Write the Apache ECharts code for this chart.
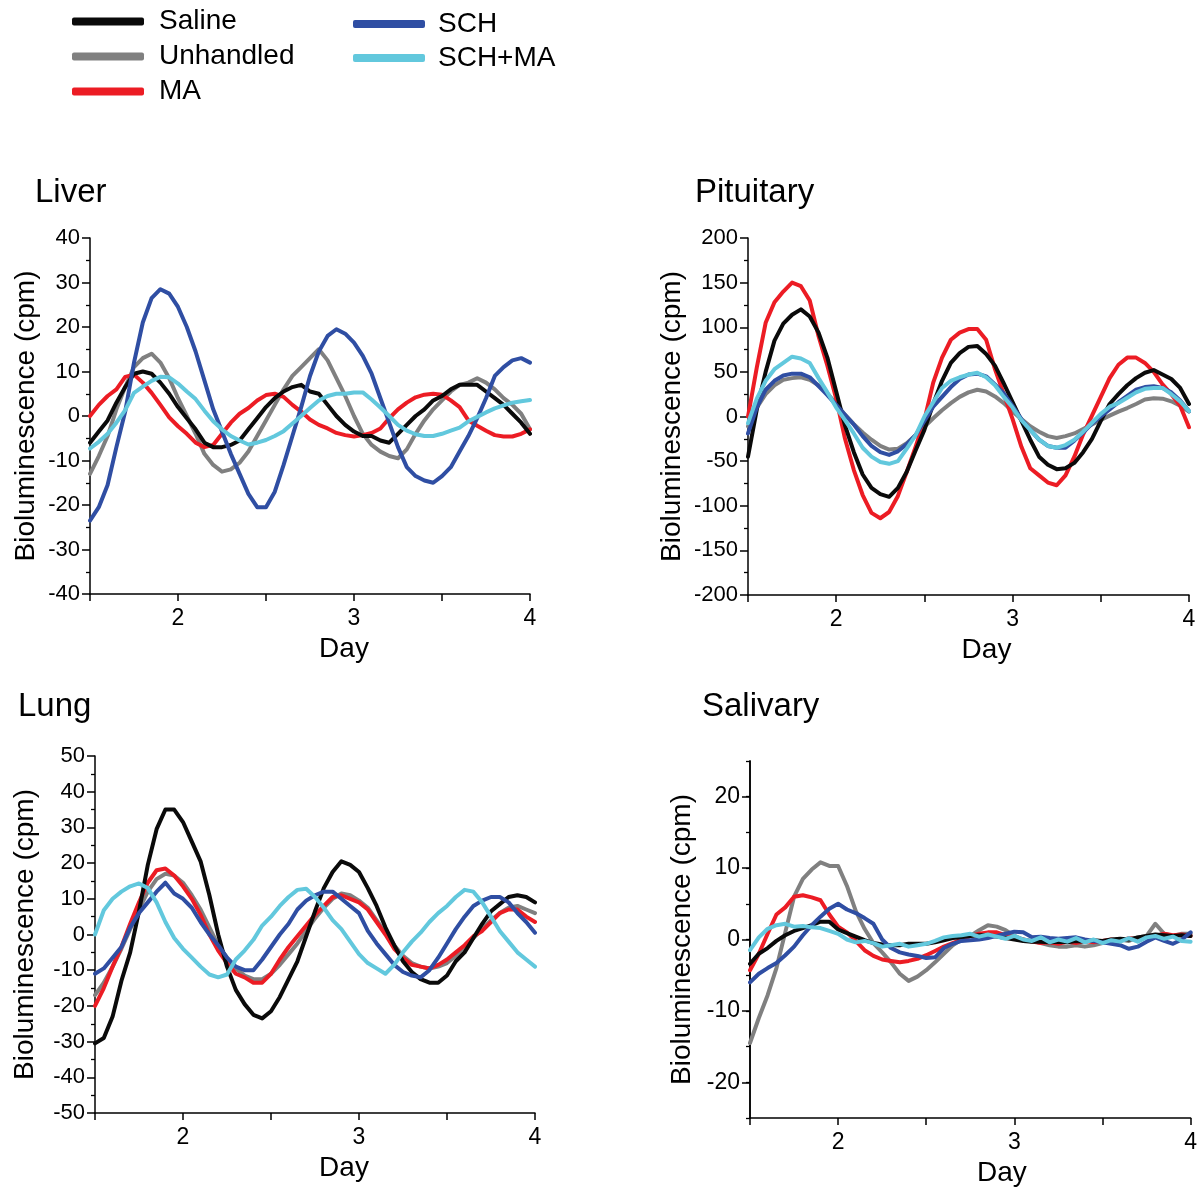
<!DOCTYPE html>
<html>
<head>
<meta charset="utf-8">
<title>Bioluminescence rhythms</title>
<script src="https://cdn.jsdelivr.net/npm/echarts@6.0.0/dist/echarts.min.js"></script>
<style>
    html, body { margin: 0; padding: 0; background: #fff; }
    #chart_main { width: 1200px; height: 1191px; }
</style>
</head>
<body>
<div id="chart_main"></div>
<script>
var DAYS = [1.5, 1.55, 1.6, 1.65, 1.7, 1.75, 1.8, 1.85, 1.9, 1.95,
    2.0, 2.05, 2.1, 2.15, 2.2, 2.25, 2.3, 2.35, 2.4, 2.45,
    2.5, 2.55, 2.6, 2.65, 2.7, 2.75, 2.8, 2.85, 2.9, 2.95,
    3.0, 3.05, 3.1, 3.15, 3.2, 3.25, 3.3, 3.35, 3.4, 3.45,
    3.5, 3.55, 3.6, 3.65, 3.7, 3.75, 3.8, 3.85, 3.9, 3.95, 4.0];

// Liver
var LIVER_SALINE = [-6, -3.5, -1, 3, 6.5, 9.5, 10, 9.5, 7.5, 5,
    2, -0.5, -3, -6, -7, -7, -6.5, -5.5, -3, -0.5,
    2, 4, 5.5, 6.5, 7, 5.5, 5, 2.5, 0, -2,
    -3.5, -4.5, -4.5, -5.5, -6, -4, -2, 0, 1.5, 3.5,
    4.5, 6, 7, 7, 7, 5.5, 4, 2.5, 0.5, -1.5, -4];
var LIVER_UNHANDLED = [-13, -9, -4.5, 1.5, 6.5, 11, 13, 14, 12, 8.5,
    4, 0, -4, -8.5, -11, -12.5, -12, -10.5, -8, -4.5,
    -1, 2.5, 6, 9, 11, 13, 15, 12.5, 8.5, 4.5,
    0, -4, -6.5, -8, -9, -9.5, -7.5, -4, -1, 1.5,
    3.5, 5.5, 7, 7.5, 8.5, 7.5, 6, 4, 2.5, 0.5, -3];
var LIVER_MA = [0, 2.5, 4.5, 6, 8.8, 9.3, 7.5, 5.2, 2.5, -0.3,
    -2.3, -4, -6, -7, -6.5, -4, -1.5, 0.5, 1.8, 3.5,
    4.7, 5, 4.3, 2.5, 1, -0.8, -2, -2.8, -3.8, -4.3,
    -4.6, -4.3, -3.8, -2.8, -0.5, 1.5, 3, 4.2, 4.8, 5,
    4.8, 3.5, 2, -1, -2.2, -3.3, -4.3, -4.6, -4.6, -4, -3];
var LIVER_SCH = [-23.5, -20.5, -15.5, -7, 1, 12, 21, 26.5, 28.5, 27.5,
    24.5, 20, 14.5, 8, 1.5, -3.5, -8.5, -13, -17.5, -20.5,
    -20.5, -17, -11, -4.5, 2, 9, 14.5, 18, 19.5, 18.5,
    16.5, 13.5, 9.5, 4, -1.5, -7, -11.5, -13.5, -14.5, -15,
    -13.5, -11.5, -8, -4.5, -0.5, 4, 9, 11, 12.5, 13, 12];
var LIVER_SCH_MA = [-7.3, -5.8, -4, -1.5, 1.3, 5.2, 6.6, 7.9, 8.8, 8.7,
    7.3, 5.5, 3.8, 1.2, -1.2, -3, -4.5, -5.5, -6.4, -6,
    -5.4, -4.5, -3.4, -1.7, 0, 1.8, 3.5, 4.5, 5, 5,
    5.3, 5.3, 3.7, 1.9, 0, -2, -3.3, -4.1, -4.5, -4.5,
    -4, -3.3, -2.6, -1.2, -0.2, 0.8, 1.7, 2.4, 3, 3.3, 3.6];

// Pituitary
var PIT_SALINE = [-45, 8, 50, 85, 104, 114, 120, 112, 94, 66,
    28, -10, -40, -65, -80, -87, -90, -80, -62, -38,
    -15, 14, 40, 60, 71, 78, 79, 70, 57, 37,
    16, -5, -26, -45, -54, -59, -58, -52, -40, -25,
    -5, 14, 25, 35, 43, 49, 52, 47, 42, 32, 14];
var PIT_UNHANDLED = [-11, 10, 25, 35, 41, 43, 44, 41, 35, 26,
    14, 2, -8.5, -18, -26, -33, -37, -36, -30, -21,
    -11.5, -2, 7, 15, 22, 27, 30, 28, 22.5, 15,
    5.5, -3, -11, -17, -22, -24, -22, -19, -14, -9,
    -4, 1, 5.5, 9.5, 14, 19, 20.5, 20, 17, 12, 5.6];
var PIT_MA = [0, 55, 105, 128, 140, 150, 146, 130, 90, 57,
    20, -25, -60, -88, -108, -114, -107, -89, -62, -34,
    -4, 38, 66, 86, 94, 98, 98, 86, 53, 25,
    -3, -34, -58, -66, -74, -77, -66, -45, -20, 1,
    22, 43, 58, 66, 66, 60, 50, 36, 25, 12, -12];
var PIT_SCH = [-19, 10, 30, 40, 46, 48, 48, 44, 34, 24,
    13, 2, -9, -22, -33, -40, -43, -39, -31, -21,
    -5, 11, 22, 33, 42, 47, 48, 45, 36, 26,
    12, -3, -15, -26, -33, -35, -35, -27, -18, -8,
    0, 8, 16, 23, 30, 33, 34, 32, 27, 18, 6];
var PIT_SCH_MA = [-7.5, 20, 40, 53, 60, 67, 65, 60, 43, 27,
    10, -4, -19, -35, -45, -51, -53, -50, -36, -21,
    0, 16, 32, 40, 44, 47, 49, 44, 35, 22,
    10, -4, -15, -26, -33, -35, -32, -26, -17, -7,
    3, 11, 15, 21, 27, 31, 32, 32, 25, 17, 6];

// Lung
var LUNG_SALINE = [-30.5, -29, -23, -13, -5, 6.5, 19.5, 29.5, 35, 35,
    31.5, 26, 20.5, 11, 0, -9, -15.5, -19.5, -22.5, -23.5,
    -21.5, -17.5, -12.5, -7.5, -0.5, 6.5, 13, 17.5, 20.5, 19.5,
    17.5, 13, 8, 2, -3, -7.5, -10.5, -12.5, -13.5, -13.5,
    -11.5, -7.5, -5, -1, 3, 6.5, 8.5, 10.5, 11, 10.5, 9];
var LUNG_UNHANDLED = [-17, -13.5, -9, -4, 1.5, 7, 12, 15.5, 17, 16.5,
    14.5, 11, 7, 2, -3, -6.5, -9.5, -11.5, -12.5, -12.5,
    -11, -8.5, -5.5, -2.5, 1, 4.5, 7.5, 10, 11.5, 11,
    9.5, 7.5, 4, 0.5, -3, -6, -8, -9, -9.5, -9,
    -8, -6, -3.5, -1, 1.5, 4, 6, 7.5, 8, 7, 6];
var LUNG_MA = [-20, -15, -9, -3.5, 3, 9, 14.5, 18, 18.5, 16.5,
    13.5, 10, 5.5, 0, -4.5, -8, -11, -12, -13.5, -13.5,
    -11, -7, -3.5, -0.5, 2.5, 5.5, 8, 10.5, 11, 10,
    9, 7, 3.5, 0, -4, -6.5, -8.5, -9, -9.5, -8.5,
    -7, -5, -3, -0.5, 1, 3.5, 6, 7, 7, 5, 3.5];
var LUNG_SCH = [-11, -9.5, -6.5, -3.5, 2, 6, 9, 12, 14.5, 11.5,
    10, 7.5, 3.5, 0, -3, -6.5, -9, -10, -10, -7,
    -3.5, 0, 3, 7, 9.5, 11, 12, 12, 10, 8,
    6, 1, -2.5, -5.5, -8.5, -10.5, -11.5, -12, -10, -6.5,
    -2.5, 1.5, 5, 8, 9.5, 10.5, 10.5, 9, 6, 3.5, 0.5];
var LUNG_SCH_MA = [0, 6.8, 10, 12, 13.5, 14.3, 13, 9, 3.5, -1,
    -4, -6.5, -9, -11.2, -12, -11.2, -7, -4.5, -1.5, 2.5,
    5, 8, 10.5, 12.5, 12.8, 10.5, 7.5, 4, 1.5, -2,
    -5.5, -8, -9.5, -11, -8.5, -5, -2, 0.5, 3.5, 6,
    8, 10.5, 12.5, 12, 9, 5, 1, -2, -5, -7, -9];

// Salivary
var SAL_SALINE = [-3.4, -2, -1.2, -0.2, 0.6, 1.2, 1.6, 2, 2.5, 2.5,
    1.4, 0.9, 0.4, -0.1, -0.5, -0.7, -0.8, -0.8, -0.6, -0.6,
    -0.6, -0.4, -0.1, 0.2, 0.3, 0.5, 0.6, 0.6, 0.4, 0.2,
    0, -0.2, -0.3, -0.3, -0.4, -0.3, -0.4, -0.2, -0.3, -0.1,
    -0.2, 0, 0.1, 0, 0.3, 0.5, 0.7, 0.6, 0.5, 0.6, 0.5];
var SAL_UNHANDLED = [-14.5, -11, -7.8, -4, 1, 6, 8.5, 9.8, 10.8, 10.3,
    10.3, 7.5, 4, 1.5, -0.5, -1.8, -3.2, -4.8, -5.8, -5.2,
    -4.3, -3.2, -2, -0.8, 0, 0.5, 1.3, 2, 1.8, 1.3,
    0.5, 0, -0.2, -0.5, -0.8, -1, -1, -0.8, -1, -0.8,
    -0.5, -0.3, 0, -0.2, 0.3, 0.5, 2.2, 0.8, 0.5, 0.8, 0.8];
var SAL_MA = [-4.3, -2, 0.8, 3.5, 4.5, 6, 6.2, 5.9, 5.5, 3.5,
    1.8, 1, -0.2, -1.5, -2.3, -2.8, -3, -3.2, -3, -2.7,
    -2.2, -1.6, -1, -0.5, 0, 0.5, 0.8, 1, 1, 0.6,
    0.3, 0, -0.3, -0.5, -0.4, -0.6, -0.3, -0.5, -0.2, -0.4,
    -0.2, 0, -0.2, 0.2, 0, 0.3, 0.5, 0.8, 0.6, 0.7, 0.5];
var SAL_SCH = [-6, -4.8, -4, -3.3, -2.2, -1, 0.6, 2, 3.2, 4.3,
    5, 4.2, 3.7, 3, 2.2, 0, -1.2, -1.8, -2.1, -2.3,
    -2.6, -2.5, -1.2, -0.6, -0.2, -0.1, 0, 0.2, 0.5, 0.8,
    1.1, 1, 0.3, 0.4, 0.2, 0.1, 0.2, 0.3, 0, -0.2,
    -0.4, -0.6, -0.8, -1.3, -1, -0.3, 0.3, -0.2, -0.6, 0, 1];
var SAL_SCH_MA = [-1.5, 0.3, 1.5, 2, 2.2, 1.8, 1.9, 1.7, 1.6, 1.2,
    0.8, 0, -0.4, -0.2, -0.5, -1, -0.8, -0.6, -1, -0.8,
    -0.6, -0.2, 0.3, 0.5, 0.6, 0.8, 0.4, 0.7, 0.4, 0.1,
    0.5, 0, -0.2, 0.3, -0.4, 0, -0.3, 0.2, -0.4, 0,
    -0.5, -0.1, -0.3, 0.2, -0.3, 0.3, 0.5, 0.1, 0.4, -0.2, -0.3];

var X_TICK_LABELS = [2, 3, 4];
var SAL_Y_LABELS = [-20, -10, 0, 10, 20];

var FONT = "'Liberation Sans', Arial, Helvetica, sans-serif";

// draw order: gray below, cyan on top
var GROUPS = ['Unhandled', 'MA', 'Saline', 'SCH', 'SCH+MA'];
var COLORS = {
    'Saline': '#0a0a0a',
    'Unhandled': '#808080',
    'MA': '#ec1c24',
    'SCH': '#2f4ea3',
    'SCH+MA': '#62c8dd'
};

var panels = [
    {
        title: 'Liver', titleLeft: 35, titleTop: 176,
        grid: { left: 90, top: 238, width: 440, height: 356 },
        yMin: -40, yMax: 40, yInterval: 10, yNameGap: 50, dayPad: 68,
        data: { 'Saline': LIVER_SALINE, 'Unhandled': LIVER_UNHANDLED, 'MA': LIVER_MA, 'SCH': LIVER_SCH, 'SCH+MA': LIVER_SCH_MA }
    },
    {
        title: 'Pituitary', titleLeft: 695, titleTop: 176,
        grid: { left: 748, top: 238, width: 441, height: 357 },
        yMin: -200, yMax: 200, yInterval: 50, yNameGap: 62, dayPad: 36,
        data: { 'Saline': PIT_SALINE, 'Unhandled': PIT_UNHANDLED, 'MA': PIT_MA, 'SCH': PIT_SCH, 'SCH+MA': PIT_SCH_MA }
    },
    {
        title: 'Lung', titleLeft: 18, titleTop: 690,
        grid: { left: 95, top: 756, width: 440, height: 357 },
        yMin: -50, yMax: 50, yInterval: 10, yNameGap: 56, dayPad: 58,
        data: { 'Saline': LUNG_SALINE, 'Unhandled': LUNG_UNHANDLED, 'MA': LUNG_MA, 'SCH': LUNG_SCH, 'SCH+MA': LUNG_SCH_MA }
    },
    {
        title: 'Salivary', titleLeft: 702, titleTop: 690,
        grid: { left: 750, top: 761, width: 441, height: 357 },
        yMin: -25, yMax: 25, yInterval: 5, yNameGap: 54, dayPad: 63,
        custom: true,
        data: { 'Saline': SAL_SALINE, 'Unhandled': SAL_UNHANDLED, 'MA': SAL_MA, 'SCH': SAL_SCH, 'SCH+MA': SAL_SCH_MA }
    }
];

var toPairs = function (ys) {
    var out = [];
    for (var i = 0; i < DAYS.length; i++) {
        out.push([DAYS[i], ys[i]]);
    }
    return out;
};

var axisLineStyle = { color: '#000', width: 1.5 };
var minorTickStyle = { color: '#000', width: 1.3 };

var option = {
    animation: false,
    backgroundColor: '#fff',
    textStyle: { fontFamily: FONT },
    title: [],
    legend: [
        {
            orient: 'vertical', left: 72, top: 4, padding: 0, itemGap: 0,
            selectedMode: false, icon: 'roundRect', itemWidth: 72, itemHeight: 8,
            data: ['Saline', 'Unhandled', 'MA'],
            textStyle: { fontFamily: FONT, fontSize: 28, color: '#000', lineHeight: 35, padding: [0, 0, 0, 10] }
        },
        {
            orient: 'vertical', left: 353, top: 7, padding: 0, itemGap: 0,
            selectedMode: false, icon: 'roundRect', itemWidth: 72, itemHeight: 8,
            data: ['SCH', 'SCH+MA'],
            textStyle: { fontFamily: FONT, fontSize: 28, color: '#000', lineHeight: 34, padding: [0, 0, 0, 8] }
        }
    ],
    grid: [],
    xAxis: [],
    yAxis: [],
    series: []
};

for (var p = 0; p < panels.length; p++) {
    var pn = panels[p];

    option.title.push({
        text: pn.title, left: pn.titleLeft, top: pn.titleTop, padding: 0,
        textStyle: { fontFamily: FONT, fontSize: 33, fontWeight: 'normal', color: '#000' }
    });

    option.grid.push(pn.grid);

    option.xAxis.push({
        type: 'value', gridIndex: p, min: 1.5, max: 4, interval: 0.5,
        name: 'Day', nameLocation: 'middle', nameGap: 41,
        nameTextStyle: { fontFamily: FONT, fontSize: 28, color: '#000', padding: [0, 0, 0, pn.dayPad] },
        axisLine: { show: true, onZero: false, lineStyle: axisLineStyle },
        axisTick: { show: true, inside: false, length: 7, lineStyle: axisLineStyle },
        axisLabel: {
            margin: 13, fontFamily: FONT, fontSize: 23, color: '#000',
            formatter: function (v) {
                return X_TICK_LABELS.indexOf(v) >= 0 ? String(v) : '';
            }
        },
        splitLine: { show: false }
    });

    var yIdx = option.yAxis.length;
    if (!pn.custom) {
        option.yAxis.push({
            type: 'value', gridIndex: p, min: pn.yMin, max: pn.yMax, interval: pn.yInterval,
            name: 'Bioluminescence (cpm)', nameLocation: 'middle', nameGap: pn.yNameGap,
            nameTextStyle: { fontFamily: FONT, fontSize: 28, color: '#000' },
            axisLine: { show: true, onZero: false, lineStyle: axisLineStyle },
            axisTick: { show: true, inside: false, length: 8, lineStyle: axisLineStyle },
            minorTick: { show: true, splitNumber: 2, length: 4, lineStyle: minorTickStyle },
            axisLabel: { margin: 10, fontFamily: FONT, fontSize: 22, color: '#000' },
            splitLine: { show: false }
        });
    } else {
        // minor ticks every 5
        option.yAxis.push({
            type: 'value', gridIndex: p, min: pn.yMin, max: pn.yMax, interval: pn.yInterval,
            position: 'left', offset: 0,
            axisLine: { show: true, onZero: false, lineStyle: axisLineStyle },
            axisTick: { show: true, inside: false, length: 4, lineStyle: minorTickStyle },
            axisLabel: { show: false },
            splitLine: { show: false }
        });
        // major ticks and labels every 10
        option.yAxis.push({
            type: 'value', gridIndex: p, min: pn.yMin, max: pn.yMax,
            position: 'left', offset: 0,
            name: 'Bioluminescence (cpm)', nameLocation: 'middle', nameGap: pn.yNameGap,
            nameTextStyle: { fontFamily: FONT, fontSize: 28, color: '#000' },
            axisLine: { show: true, onZero: false, lineStyle: axisLineStyle },
            axisTick: { show: true, inside: false, length: 8, lineStyle: axisLineStyle, customValues: SAL_Y_LABELS },
            axisLabel: { margin: 10, fontFamily: FONT, fontSize: 23, color: '#000', customValues: SAL_Y_LABELS },
            splitLine: { show: false }
        });
    }

    for (var g = 0; g < GROUPS.length; g++) {
        var name = GROUPS[g];
        option.series.push({
            type: 'line',
            name: name,
            xAxisIndex: p,
            yAxisIndex: yIdx,
            data: toPairs(pn.data[name]),
            showSymbol: false,
            symbol: 'none',
            silent: true,
            color: COLORS[name],
            lineStyle: { color: COLORS[name], width: 4, join: 'round', cap: 'round' },
            z: 2 + g
        });
    }
}

var chart_main = echarts.init(document.getElementById('chart_main'), null, { renderer: 'canvas' });
chart_main.setOption(option);
</script>
</body>
</html>
